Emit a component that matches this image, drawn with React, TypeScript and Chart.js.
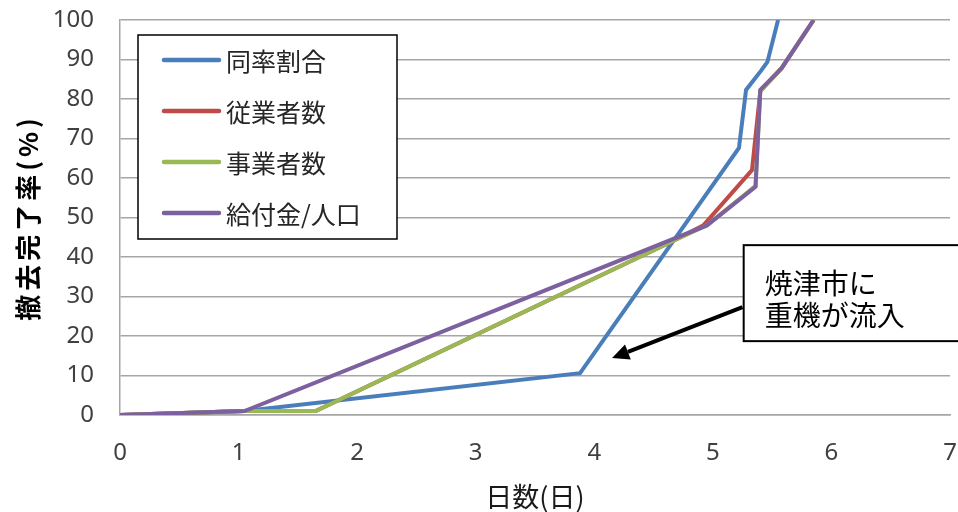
import React, { useEffect, useRef } from "react";
import { Chart, registerables } from "chart.js";

Chart.register(...registerables);

// ---- data ----
const seriesNames = ["同率割合", "従業者数", "事業者数", "給付金/人口"];
const seriesColors = ["#4A7EBB", "#BE4B48", "#98B954", "#7D60A0"];

const blueDays = [0, 1.05, 3.88, 5.22, 5.28, 5.41, 5.46, 5.55];
const blueRate = [0, 1, 10.6, 67.6, 82.3, 87.3, 89.4, 100];

const redDays = [0, 1.05, 1.65, 4.66, 4.92, 5.33, 5.4, 5.58, 5.85];
const redRate = [0, 1, 1, 44, 48, 62, 82, 87.8, 100];

const greenDays = [0, 1.05, 1.65, 4.66, 4.95, 5.36, 5.4, 5.58, 5.85];
const greenRate = [0, 1, 1, 44, 48, 58, 82, 87.8, 100];

const purpleDays = [0, 1.05, 4.95, 5.36, 5.4, 5.58, 5.85];
const purpleRate = [0, 1, 48, 57.8, 82.3, 87.8, 100];

const xTicks = [0, 1, 2, 3, 4, 5, 6, 7];
const yTicks = [0, 10, 20, 30, 40, 50, 60, 70, 80, 90, 100];

const xTitle = "日数(日)";
const yTitle = "撤去完了率(%)";

const noteLines = ["焼津市に", "重機が流入"];
// annotation anchors in data units
const noteBox = { x0: 5.26, y0: 43, y1: 18.7 };
const noteTextY = [33.4, 25.3];
const arrowFrom = { x: 5.25, y: 27.3 };
const arrowTo = { x: 4.15, y: 14.4 };

const CJK = "'Noto Sans CJK JP', 'Noto Sans', sans-serif";
const NUM = "'Noto Sans', sans-serif";

function zip(xs: number[], ys: number[]) {
  return xs.map((x, i) => ({ x, y: ys[i] }));
}

const customPlugin = {
  id: "customDecor",
  afterDatasetsDraw(chart: any) {
    const { ctx, chartArea, scales } = chart;
    const xs = scales.x;
    const ys = scales.y;
    ctx.save();

    // legend box
    const lx = chartArea.left + 18;
    const ly = chartArea.top + 15;
    const lw = 259;
    const lh = 204;
    ctx.fillStyle = "#ffffff";
    ctx.fillRect(lx, ly, lw, lh);
    ctx.strokeStyle = "#000000";
    ctx.lineWidth = 1.5;
    ctx.strokeRect(lx, ly, lw, lh);
    chart.data.datasets.forEach((ds: any, i: number) => {
      const cy = ly + 25 + i * 51;
      ctx.strokeStyle = ds.borderColor;
      ctx.lineWidth = 4.5;
      ctx.lineCap = "round";
      ctx.beginPath();
      ctx.moveTo(lx + 26, cy);
      ctx.lineTo(lx + 81, cy);
      ctx.stroke();
      ctx.fillStyle = "#262626";
      ctx.font = `25px ${CJK}`;
      ctx.textBaseline = "middle";
      ctx.textAlign = "left";
      ctx.fillText(ds.label, lx + 88, cy + 1);
    });

    // annotation box
    const bx = xs.getPixelForValue(noteBox.x0);
    const by0 = ys.getPixelForValue(noteBox.y0);
    const by1 = ys.getPixelForValue(noteBox.y1);
    ctx.fillStyle = "#ffffff";
    ctx.fillRect(bx, by0, chart.width - bx + 10, by1 - by0);
    ctx.strokeStyle = "#000000";
    ctx.lineWidth = 2;
    ctx.strokeRect(bx, by0, chart.width - bx + 10, by1 - by0);
    ctx.fillStyle = "#000000";
    ctx.font = `28px ${CJK}`;
    ctx.textBaseline = "middle";
    ctx.textAlign = "left";
    noteLines.forEach((t, i) => {
      ctx.fillText(t, bx + 21, ys.getPixelForValue(noteTextY[i]));
    });

    // arrow
    const ax0 = xs.getPixelForValue(arrowFrom.x);
    const ay0 = ys.getPixelForValue(arrowFrom.y);
    const ax1 = xs.getPixelForValue(arrowTo.x);
    const ay1 = ys.getPixelForValue(arrowTo.y);
    const ang = Math.atan2(ay1 - ay0, ax1 - ax0);
    const headLen = 17;
    const headW = 8;
    const bxh = ax1 - headLen * Math.cos(ang);
    const byh = ay1 - headLen * Math.sin(ang);
    ctx.strokeStyle = "#000000";
    ctx.lineWidth = 4;
    ctx.lineCap = "butt";
    ctx.beginPath();
    ctx.moveTo(ax0, ay0);
    ctx.lineTo(bxh, byh);
    ctx.stroke();
    ctx.fillStyle = "#000000";
    ctx.beginPath();
    ctx.moveTo(ax1, ay1);
    ctx.lineTo(bxh + headW * Math.sin(ang), byh - headW * Math.cos(ang));
    ctx.lineTo(bxh - headW * Math.sin(ang), byh + headW * Math.cos(ang));
    ctx.closePath();
    ctx.fill();

    // axis titles
    const midX = (chartArea.left + chartArea.right) / 2;
    const midY = (chartArea.top + chartArea.bottom) / 2;
    ctx.fillStyle = "#1a1a1a";
    ctx.font = `27px ${CJK}`;
    ctx.textAlign = "center";
    ctx.textBaseline = "middle";
    ctx.fillText(xTitle, midX, chartArea.bottom + 82);

    ctx.save();
    ctx.translate(28, midY + 2);
    ctx.rotate(-Math.PI / 2);
    ctx.fillStyle = "#000000";
    ctx.font = `bold 26px ${CJK}`;
    try {
      (ctx as any).letterSpacing = "4px";
    } catch (e) {}
    ctx.textAlign = "center";
    ctx.textBaseline = "middle";
    ctx.fillText(yTitle, 2, 0);
    ctx.restore();

    ctx.restore();
  },
};

export default function App() {
  const ref = useRef<HTMLCanvasElement | null>(null);

  useEffect(() => {
    if (!ref.current) return;
    const allX = [blueDays, redDays, greenDays, purpleDays];
    const allY = [blueRate, redRate, greenRate, purpleRate];
    const chart = new Chart(ref.current, {
      type: "line",
      data: {
        datasets: seriesNames.map((name, i) => ({
          label: name,
          data: zip(allX[i], allY[i]),
          borderColor: seriesColors[i],
          backgroundColor: seriesColors[i],
          borderWidth: 4,
          pointRadius: 0,
          tension: 0,
          fill: false,
          order: 4 - i,
        })),
      },
      options: {
        animation: false,
        responsive: false,
        devicePixelRatio: 1,
        layout: { padding: { top: 20, right: 8, left: 0, bottom: 0 } },
        plugins: {
          legend: { display: false },
          tooltip: { enabled: false },
        },
        scales: {
          x: {
            type: "linear",
            min: 0,
            max: 7,
            afterBuildTicks: (s: any) => {
              s.ticks = xTicks.map((v) => ({ value: v }));
            },
            afterFit: (s: any) => {
              s.height = 97;
              s.paddingLeft = 0;
              s.paddingRight = 0;
            },
            ticks: {
              color: "#404040",
              font: { size: 24, family: NUM },
              padding: 24,
              maxRotation: 0,
            },
            grid: { display: false, drawTicks: false },
            border: { display: true, color: "#a6a6a6", width: 1.5 },
          },
          y: {
            type: "linear",
            min: 0,
            max: 100,
            afterBuildTicks: (s: any) => {
              s.ticks = yTicks.map((v) => ({ value: v }));
            },
            afterFit: (s: any) => {
              s.width = 120;
              s.paddingTop = 0;
              s.paddingBottom = 0;
            },
            ticks: {
              color: "#404040",
              font: { size: 24, family: NUM },
              padding: 26,
            },
            grid: { color: "#a6a6a6", lineWidth: 1.5, drawTicks: false },
            border: { display: true, color: "#a6a6a6", width: 1.5 },
          },
        },
      },
      plugins: [customPlugin],
    });
    return () => chart.destroy();
  }, []);

  return (
    <div style={{ position: "absolute", left: 0, top: 0, width: 958, height: 512, background: "#fff" }}>
      <canvas ref={ref} width={958} height={512} style={{ display: "block", width: 958, height: 512 }} />
    </div>
  );
}
